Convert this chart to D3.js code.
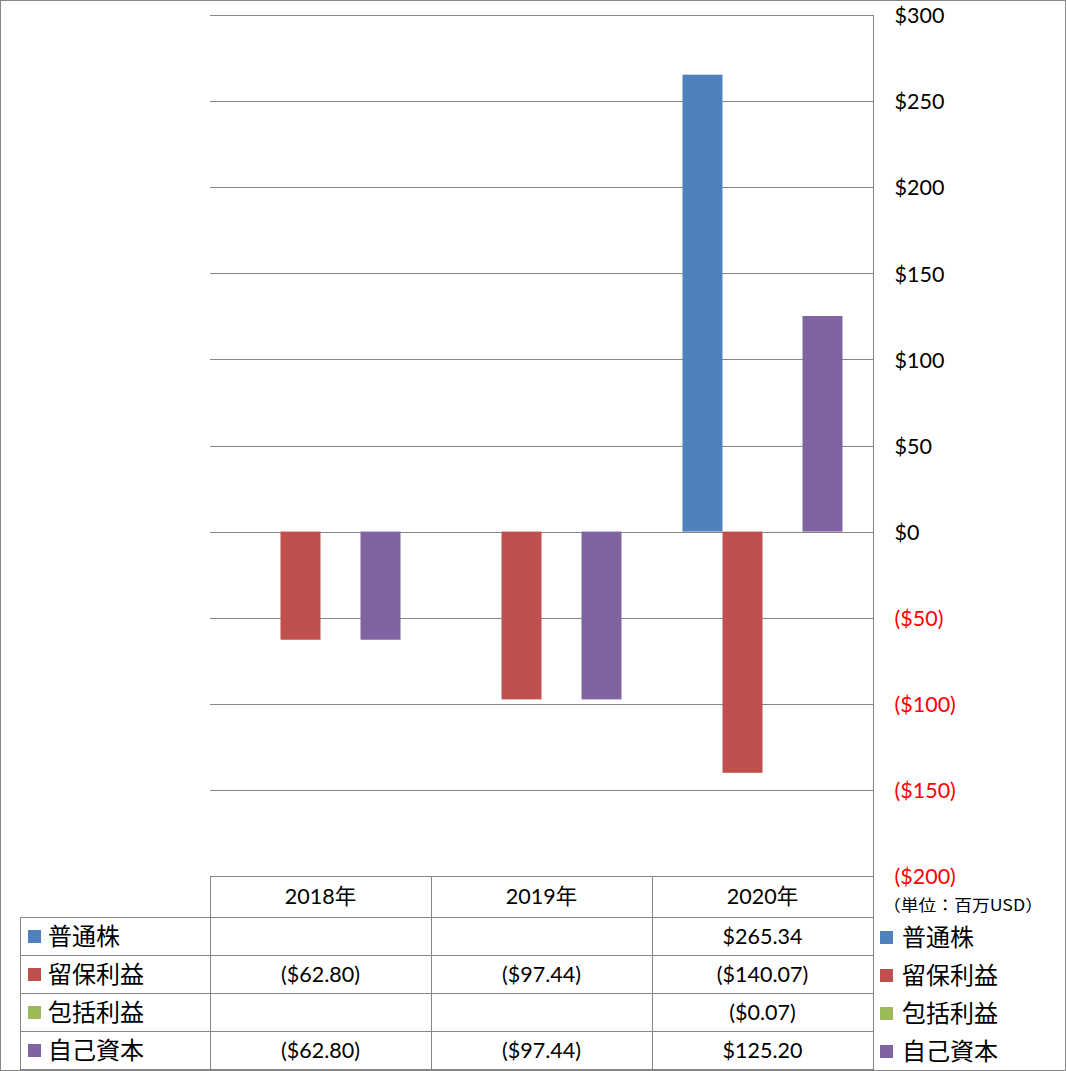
<!DOCTYPE html>
<html><head><meta charset="utf-8">
<script src="https://cdn.jsdelivr.net/npm/d3@7"></script>
<style>body{margin:0;background:#fff}svg{display:block}</style>
</head><body>
<svg id="c" width="1066" height="1071"></svg>
<script>
const categories = ["2018年","2019年","2020年"];
const seriesNames = ["普通株","留保利益","包括利益","自己資本"];
const seriesColors = ["#4F81BD","#C0504D","#9BBB59","#8064A2"];
const common = [null, null, 265.34];
const retained = [-62.80, -97.44, -140.07];
const comprehensive = [null, null, -0.07];
const equity = [-62.80, -97.44, 125.20];
const seriesValues = [common, retained, comprehensive, equity];
const yTicks = [300,250,200,150,100,50,0,-50,-100,-150,-200];
const unitLabel = "（単位：百万USD）";

const svg = d3.select("#c");
const latin = "Lato, 'Open Sans', sans-serif";
const cjk = "'Noto Sans CJK JP', sans-serif";
const mixed = "Lato, 'Noto Sans CJK JP', sans-serif";
const grid = "#868686";

const L = 210, R = 873, T = 15, B = 876;
const x = d3.scaleBand().domain(categories).range([L, R]).paddingInner(0).paddingOuter(0);
const xs = d3.scaleBand().domain(d3.range(4)).range([0, x.bandwidth()]).paddingOuter(0.7625).paddingInner(0);
const y = d3.scaleLinear().domain([-200, 300]).range([B, T]);

svg.append("rect").attr("x",0.5).attr("y",0.5).attr("width",1065).attr("height",1070).attr("fill","none").attr("stroke",grid);

svg.append("g").selectAll("line").data(yTicks).join("line")
  .attr("x1",L).attr("x2",R).attr("y1",d=>Math.round(y(d))+0.5).attr("y2",d=>Math.round(y(d))+0.5)
  .attr("stroke",grid).attr("stroke-width",1);

seriesValues.forEach((vals,si)=>{
  svg.append("g").selectAll("rect").data(vals.map((v,i)=>({v,c:categories[i]})).filter(d=>d.v!==null)).join("rect")
    .attr("x",d=>x(d.c)+xs(si))
    .attr("width",xs.bandwidth())
    .attr("y",d=>Math.min(y(d.v),y(0)))
    .attr("height",d=>Math.abs(y(d.v)-y(0)))
    .attr("fill",seriesColors[si]);
});

const fmt = v => v<0 ? "($"+Math.abs(v)+")" : "$"+v;
const axis = d3.axisRight(y).tickValues(yTicks).tickSize(0).tickPadding(21).tickFormat(fmt);
const ag = svg.append("g").attr("transform",`translate(${R+0.5},0)`).call(axis);
ag.select(".domain").attr("stroke",grid).attr("d",`M0,${T}V1071`);
ag.selectAll("text").attr("font-family",latin).attr("font-size",21.5)
  .attr("fill",d=>d<0?"#FF0000":"#000").attr("dy","0.36em");

svg.append("text").attr("x",883).attr("y",911).attr("font-family",cjk).attr("font-size",16)
  .attr("textLength",160).attr("lengthAdjust","spacingAndGlyphs").attr("fill","#000").text(unitLabel);

const rowH = 38, headT = B, headB = 917;
const tg = svg.append("g");
tg.append("line").attr("x1",L).attr("x2",R).attr("y1",headT+0.5).attr("y2",headT+0.5).attr("stroke",grid);
d3.range(5).forEach(i=>{
  const yy = headB + i*rowH + 0.5;
  tg.append("line").attr("x1",20).attr("x2",R).attr("y1",yy).attr("y2",yy).attr("stroke",grid);
});
categories.forEach(c=>{
  tg.append("line").attr("x1",x(c)+0.5).attr("x2",x(c)+0.5).attr("y1",headT).attr("y2",headB+4*rowH).attr("stroke",grid);
});
tg.append("line").attr("x1",20.5).attr("x2",20.5).attr("y1",headB).attr("y2",headB+4*rowH).attr("stroke",grid);
tg.selectAll("text.h").data(categories).join("text").attr("class","h")
  .attr("x",d=>x(d)+x.bandwidth()/2).attr("y",headT+28).attr("text-anchor","middle")
  .attr("font-family",mixed).attr("font-size",21.5).attr("fill","#000").text(d=>d);
const cellFmt = v => v===null ? "" : (v<0 ? "($"+Math.abs(v).toFixed(2)+")" : "$"+v.toFixed(2));
seriesNames.forEach((name,si)=>{
  const ry = headB + si*rowH;
  tg.append("rect").attr("x",28).attr("y",ry+13).attr("width",13).attr("height",13).attr("fill",seriesColors[si]);
  tg.append("text").attr("x",48).attr("y",ry+28).attr("font-family",cjk).attr("font-size",24).attr("fill","#000").text(name);
  seriesValues[si].forEach((v,ci)=>{
    tg.append("text").attr("x",x(categories[ci])+x.bandwidth()/2).attr("y",ry+27).attr("text-anchor","middle")
      .attr("font-family",latin).attr("font-size",21.5).attr("fill","#000").text(cellFmt(v));
  });
  tg.append("rect").attr("x",880).attr("y",ry+14).attr("width",13).attr("height",13).attr("fill",seriesColors[si]);
  tg.append("text").attr("x",902).attr("y",ry+29).attr("font-family",cjk).attr("font-size",24).attr("fill","#000").text(name);
});
</script>
</body></html>
